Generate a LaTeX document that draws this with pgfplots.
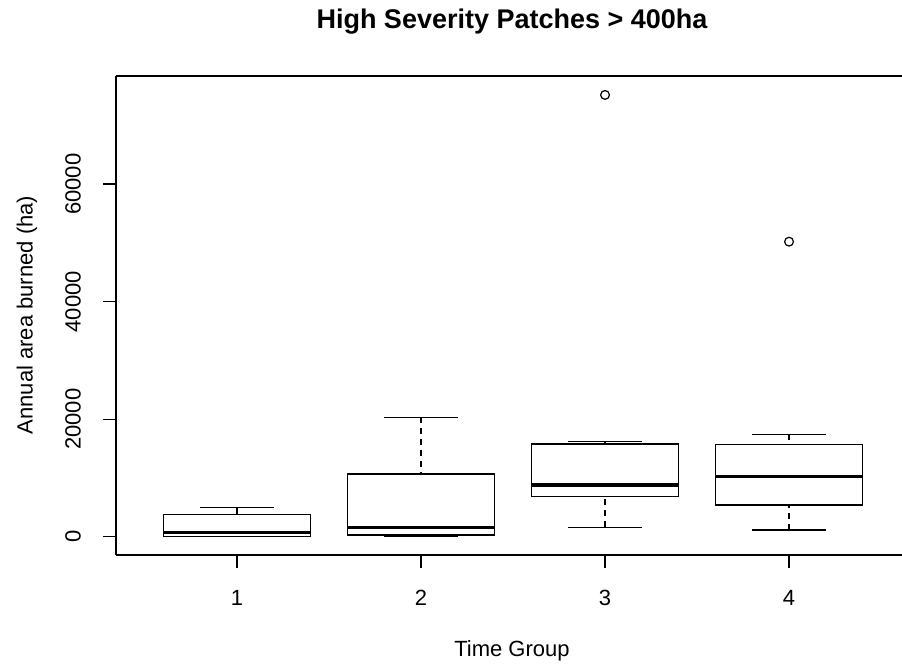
\documentclass[border=0pt]{standalone}
\usepackage{fontspec}
\setmainfont{Liberation Sans}
\usepackage{pgfplots}
\usepgfplotslibrary{statistics}
\pgfplotsset{compat=1.18}

% R-style whiskers: dashed stem, solid cap
\pgfplotsset{
  rbox/.style={
    black, line width=0.65pt, solid,
    mark=o, mark size=2.2pt, mark options={solid, black, line width=0.6pt},
    boxplot/draw/lower whisker/.code={%
      \draw[dash pattern=on 3pt off 2.5pt]
        (boxplot box cs:\pgfplotsboxplotvalue{lower whisker},0.5) --
        (boxplot box cs:\pgfplotsboxplotvalue{lower quartile},0.5);
      \draw (boxplot whisker cs:\pgfplotsboxplotvalue{lower whisker},0) --
        (boxplot whisker cs:\pgfplotsboxplotvalue{lower whisker},1);
    },
    boxplot/draw/upper whisker/.code={%
      \draw[dash pattern=on 3pt off 2.5pt]
        (boxplot box cs:\pgfplotsboxplotvalue{upper whisker},0.5) --
        (boxplot box cs:\pgfplotsboxplotvalue{upper quartile},0.5);
      \draw (boxplot whisker cs:\pgfplotsboxplotvalue{upper whisker},0) --
        (boxplot whisker cs:\pgfplotsboxplotvalue{upper whisker},1);
    },
    boxplot/every median/.style={line width=1.7pt},
  },
}

\begin{document}
\begin{tikzpicture}
\path[use as bounding box] (0,0) rectangle (451pt,332pt);
\begin{axis}[
    at={(58pt,54.5pt)}, anchor=south west,
    scale only axis, width=393pt, height=239.5pt,
    xmin=0.342, xmax=4.614,
    ymin=-3110, ymax=78400,
    axis x line*=box, axis y line*=left,
    axis line style={line width=0.65pt, -},
    xtick={1,2,3,4}, ytick={0,20000,40000,60000},
    xtick pos=bottom, ytick pos=left,
    tick align=outside, major tick length=6.5pt,
    tick style={line width=0.65pt, black},
    minor tick num=0,
    /pgf/number format/assume math mode=true,
    scaled y ticks=false,
    yticklabel={\pgfmathprintnumber[fixed,precision=0,1000 sep={}]{\tick}},
    tick label style={font=\fontsize{11}{13}\selectfont},
    yticklabel style={rotate=90, anchor=south, yshift=7.5pt},
    xticklabel style={yshift=-7.5pt},
    boxplot/draw direction=y,
    boxplot/box extend=0.8,
    boxplot/whisker extend=0.4,
]
\addplot[rbox, boxplot prepared={draw position=1, lower whisker=0,
  lower quartile=40, median=680, upper quartile=3810, upper whisker=4940}]
  coordinates {};
\addplot[rbox, boxplot prepared={draw position=2, lower whisker=0,
  lower quartile=290, median=1530, upper quartile=10670, upper whisker=20320}]
  coordinates {};
\addplot[rbox, boxplot prepared={draw position=3, lower whisker=1600,
  lower quartile=6880, median=8800, upper quartile=15780, upper whisker=16170}]
  table[row sep=\\, y index=0] {y\\ 75180\\};
\addplot[rbox, boxplot prepared={draw position=4, lower whisker=1140,
  lower quartile=5400, median=10210, upper quartile=15730, upper whisker=17430}]
  table[row sep=\\, y index=0] {y\\ 50210\\};
\end{axis}
\node[font=\fontsize{13.5}{16}\selectfont\bfseries] at (256pt,321pt) {High Severity Patches > 400ha};
\node[font=\fontsize{11}{13}\selectfont] at (256pt,6.5pt) {Time Group};
\node[font=\fontsize{11}{13}\selectfont, rotate=90] at (13.5pt,174.5pt) {Annual area burned (ha)};
\end{tikzpicture}
\end{document}
